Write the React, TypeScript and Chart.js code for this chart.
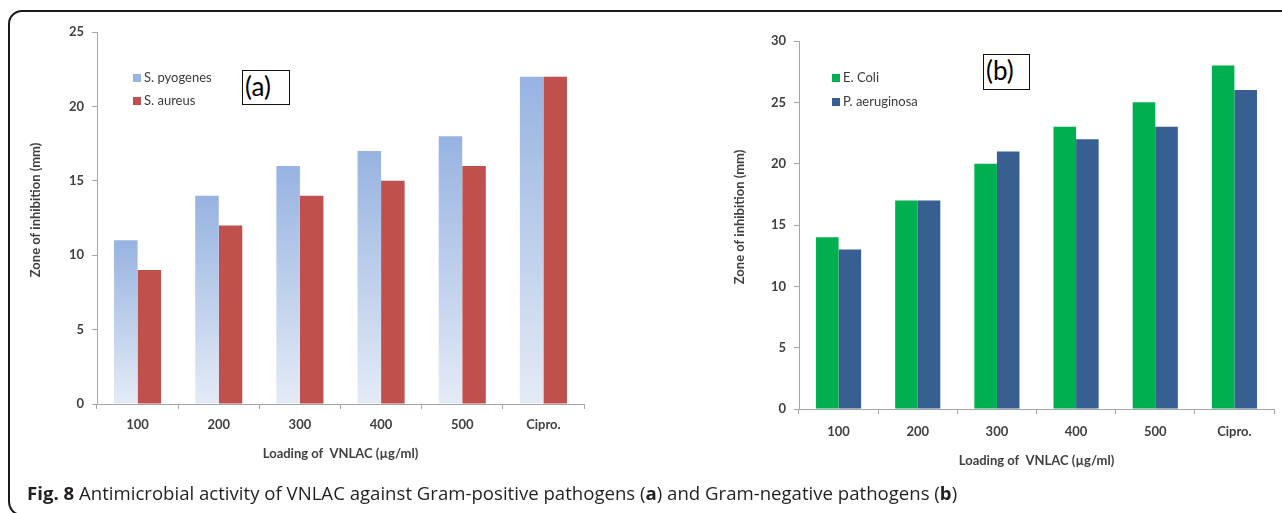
import React, { useEffect, useRef } from 'react';
import { Chart, registerables } from 'chart.js';

Chart.register(...registerables);

// ---------- data ----------
const categories = ['100', '200', '300', '400', '500', 'Cipro.'];
const pyogenes = [11, 14, 16, 17, 18, 22];
const aureus = [9, 12, 14, 15, 16, 22];
const ecoli = [14, 17, 20, 23, 25, 28];
const aeruginosa = [13, 17, 21, 22, 23, 26];
const yMaxA = 25;
const yMaxB = 30;
const yStep = 5;
const xTitle = 'Loading of  VNLAC (µg/ml)';
const yTitle = 'Zone of inhibition (mm)';

const TICK_COLOR = '#404040';
const AXIS_COLOR = '#a6a6a6';

function blueGradient(ctx: any) {
  const chart = ctx.chart;
  const y = chart.scales && chart.scales.y;
  if (!chart.chartArea || !y || ctx.raw === undefined) return '#9bb5e3';
  const top = y.getPixelForValue(ctx.raw);
  const bottom = y.getPixelForValue(0);
  const g = chart.ctx.createLinearGradient(0, top, 0, bottom);
  g.addColorStop(0, '#97b3e1');
  g.addColorStop(1, '#e4ebf6');
  return g;
}

const insideLegend = {
  id: 'insideLegend',
  afterDraw(chart: any, _args: any, opts: any) {
    const { ctx, chartArea } = chart;
    ctx.save();
    chart.data.datasets.forEach((ds: any, i: number) => {
      const x = chartArea.left + opts.x;
      const y = chartArea.top + opts.y + i * opts.gap;
      ctx.fillStyle = opts.colors[i];
      ctx.fillRect(x, y - 4, 8, 8);
      ctx.fillStyle = '#3a3a3a';
      ctx.font = '13px Lato';
      ctx.textBaseline = 'middle';
      ctx.textAlign = 'left';
      ctx.fillText(ds.label, x + 11, y);
    });
    ctx.restore();
  },
};

// y-axis title, drawn slightly above the axis centre as in the original
const yAxisTitle = {
  id: 'yAxisTitle',
  afterDraw(chart: any, _args: any, opts: any) {
    const { ctx, chartArea } = chart;
    ctx.save();
    ctx.translate(opts.x, (chartArea.top + chartArea.bottom) / 2 - opts.lift);
    ctx.rotate(-Math.PI / 2);
    ctx.fillStyle = TICK_COLOR;
    ctx.font = 'bold 13px Lato';
    ctx.textAlign = 'center';
    ctx.textBaseline = 'middle';
    ctx.fillText(opts.text, 0, 0);
    ctx.restore();
  },
};

type Cfg = {
  width: number;
  height: number;
  yMax: number;
  yWidth: number;
  xHeight: number;
  padRight: number;
  padTop: number;
  yTitleX: number;
  xTitlePad: number;
  tickPadX: number;
  datasets: any[];
  legend: any;
};

function BarChart(props: Cfg) {
  const ref = useRef<HTMLCanvasElement | null>(null);
  useEffect(() => {
    if (!ref.current) return;
    const chart = new Chart(ref.current, {
      type: 'bar',
      data: { labels: categories, datasets: props.datasets },
      options: {
        animation: false,
        responsive: false,
        devicePixelRatio: 1,
        layout: { padding: { left: 0, top: props.padTop, right: props.padRight, bottom: 0 } },
        plugins: {
          legend: { display: false },
          tooltip: { enabled: false },
          insideLegend: props.legend,
          yAxisTitle: { text: yTitle, x: props.yTitleX, lift: 8 },
        } as any,
        scales: {
          x: {
            grid: { drawOnChartArea: false, drawTicks: true, tickLength: 5, color: AXIS_COLOR, offset: true },
            border: { color: AXIS_COLOR, width: 1 },
            ticks: { color: TICK_COLOR, font: { family: 'Lato', size: 13, weight: 'bold' }, padding: props.tickPadX },
            title: {
              display: true,
              text: xTitle,
              color: TICK_COLOR,
              font: { family: 'Lato', size: 13, weight: 'bold' },
              padding: { top: 0, bottom: props.xTitlePad },
            },
            afterFit: (s: any) => { s.height = props.xHeight; },
          },
          y: {
            min: 0,
            max: props.yMax,
            grid: { drawOnChartArea: false, drawTicks: true, tickLength: 5, color: AXIS_COLOR },
            border: { color: AXIS_COLOR, width: 1 },
            ticks: { stepSize: yStep, color: TICK_COLOR, font: { family: 'Lato', size: 13, weight: 'bold' }, padding: 8 },
            afterFit: (s: any) => { s.width = props.yWidth; },
          },
        },
      } as any,
      plugins: [insideLegend, yAxisTitle],
    });
    return () => chart.destroy();
  }, []);
  return <canvas ref={ref} width={props.width} height={props.height} style={{ width: props.width, height: props.height, display: 'block' }} />;
}

const panelBox: React.CSSProperties = {
  position: 'absolute',
  boxSizing: 'border-box',
  border: '1.5px solid #111',
  fontFamily: 'Lato',
  fontSize: 26,
  lineHeight: '31px',
  paddingLeft: 2,
  color: '#000',
  background: '#fff',
};

export default function App() {
  const dsA = [
    { label: 'S. pyogenes', data: pyogenes, backgroundColor: blueGradient, categoryPercentage: 0.58, barPercentage: 1 },
    { label: 'S. aureus', data: aureus, backgroundColor: '#c0504d', categoryPercentage: 0.58, barPercentage: 1 },
  ];
  const dsB = [
    { label: 'E. Coli', data: ecoli, backgroundColor: '#00b050', categoryPercentage: 0.57, barPercentage: 1 },
    { label: 'P. aeruginosa', data: aeruginosa, backgroundColor: '#375f92', categoryPercentage: 0.57, barPercentage: 1 },
  ];
  return (
    <div style={{ position: 'fixed', left: 0, top: 0, width: 1282, height: 513, overflow: 'hidden', background: '#fff' }}>
      <div
        style={{
          position: 'absolute', left: 8, top: 10, width: 1400, height: 506, boxSizing: 'border-box',
          border: '2px solid #1a1a1a', borderRadius: 14,
        }}
      />
      <div style={{ position: 'absolute', left: 0, top: 0 }}>
        <BarChart
          width={600} height={475} yMax={yMaxA} yWidth={97} xHeight={71} padRight={16} padTop={32}
          yTitleX={36} xTitlePad={13} tickPadX={8} datasets={dsA}
          legend={{ x: 36, y: 46, gap: 23, colors: ['#9bb5e3', '#c0504d'] }}
        />
      </div>
      <div style={{ position: 'absolute', left: 640, top: 0 }}>
        <BarChart
          width={642} height={490} yMax={yMaxB} yWidth={159} xHeight={81} padRight={8} padTop={41}
          yTitleX={100} xTitlePad={21} tickPadX={10} datasets={dsB}
          legend={{ x: 33, y: 37, gap: 24, colors: ['#00b050', '#375f92'] }}
        />
      </div>
      <div style={{ ...panelBox, left: 242, top: 70, width: 48, height: 35 }}>(a)</div>
      <div style={{ ...panelBox, left: 983, top: 54, width: 47, height: 36 }}>(b)</div>
      <div
        style={{
          position: 'absolute', left: 27, top: 481, fontFamily: '"Open Sans"', fontSize: 18.6,
          color: '#231f20', whiteSpace: 'nowrap', lineHeight: '24px',
        }}
      >
        <b>Fig. 8</b> Antimicrobial activity of VNLAC against Gram-positive pathogens (<b>a</b>) and Gram-negative pathogens (<b>b</b>)
      </div>
    </div>
  );
}
